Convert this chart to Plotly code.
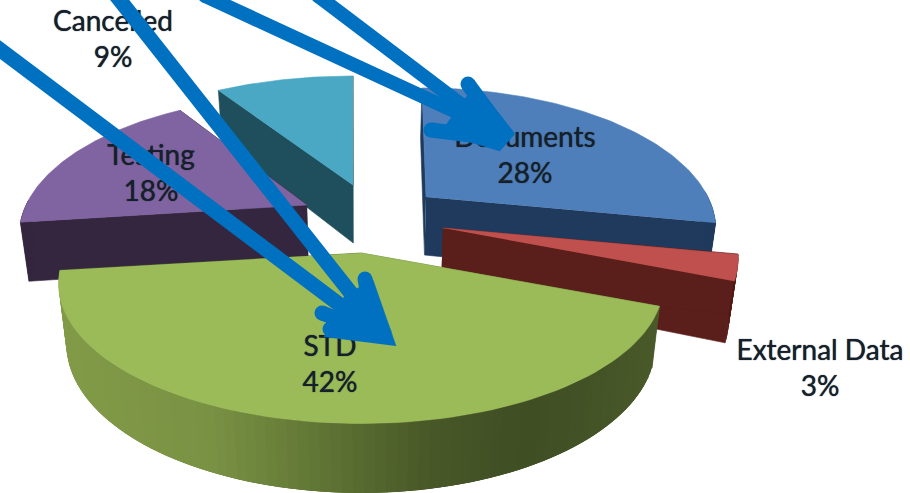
import numpy as np
import plotly.graph_objects as go

# Share of work items per category
categories = ["Documents", "External Data", "STD", "Testing", "Cancelled"]
shares = [28, 3, 42, 18, 9]

# Styling for each slice, in the same order as the categories
top_colors = ["#4f7fba", "#c0504d", "#9bbb59", "#8064a2", "#4aa8c4"]
wall_colors = ["#1f3a5c", "#5a1f1b", "#55682f", "#35263f", "#1f4f5c"]
apex_x = [426, 443, 361, 307, 353]
apex_y = [197, 228, 253, 205, 185]
radius_x = [282, 288, 295, 281, 298]
lean = [-4, 0, 0, 0, 0]
paint_order = [4, 3, 0, 1, 2]

# Label placement: x, y of the centre of the two-line label
label_x = [525, 820, 330, 151, 113]
label_y = [158, 371, 367, 176, 42]

# Projection of the tilted disc
RADIUS_Y = 133
PERSPECTIVE = 0.22
DEPTH = 58
VANISH_X = 365

# Gradient along the rim of the large front slice: screen x, colour
RIM_STOPS_X = [60, 200, 300, 420, 520, 660]
RIM_STOPS_RGB = [(130, 155, 72), (122, 146, 68), (98, 120, 54), (72, 88, 40), (64, 78, 36), (74, 90, 42)]


def project(i, theta, r=1.0, lower=False):
    """Project a point of slice i (clockwise angle from 12 o'clock) to page pixels."""
    ex, ey = r * np.sin(theta), r * np.cos(theta)
    s = 1 / (1 + PERSPECTIVE * ey)
    x = apex_x[i] + radius_x[i] * ex * s + lean[i] * ey
    y = apex_y[i] - RADIUS_Y * ey * s
    if lower:
        x = x + (VANISH_X - x) * 0.025
        y = y + DEPTH * (1 + (s - 1) * 0.7)
    return x, y


def polygon(xs, ys, color, edge=0.6):
    return go.Scatter(x=list(xs), y=list(ys), mode="lines", fill="toself", fillcolor=color,
                      line=dict(color=color, width=edge), hoverinfo="skip", showlegend=False)


def rim_color(x):
    rgb = [np.interp(x, RIM_STOPS_X, [c[k] for c in RIM_STOPS_RGB]) for k in range(3)]
    return "rgb(%d,%d,%d)" % tuple(rgb)


fig = go.Figure()

total = sum(shares)
edges = np.cumsum([0] + shares) / total * 2 * np.pi

for i in paint_order:
    start, stop = edges[i], edges[i + 1]
    arc = np.linspace(start, stop, 90)

    # Two radial walls
    for a in (stop, start):
        tx, ty = project(i, a)
        bx, by = project(i, a, lower=True)
        cx, cy = project(i, a, r=0)
        dx, dy = project(i, a, r=0, lower=True)
        fig.add_trace(polygon([cx, tx, bx, dx], [cy, ty, by, dy], wall_colors[i]))

    # Outer rim on the side facing the viewer; each segment overlaps the next to hide seams
    front = arc[np.cos(arc) < 0.05]
    for k in range(len(front) - 1):
        a0, a1 = front[k], front[min(k + 3, len(front) - 1)]
        t0, t1 = project(i, a0), project(i, a1)
        b0, b1 = project(i, a0, lower=True), project(i, a1, lower=True)
        color = rim_color((t0[0] + t1[0]) / 2) if categories[i] == "STD" else wall_colors[i]
        fig.add_trace(polygon([t0[0], t1[0], b1[0], b0[0]], [t0[1], t1[1], b1[1], b0[1]], color, edge=0))

    # Top face
    px, py = project(i, arc)
    ax, ay = project(i, start, r=0)
    fig.add_trace(polygon([ax, *px], [ay, *py], top_colors[i]))

# Category names and percentages
fig.add_trace(go.Scatter(
    x=label_x, y=label_y, mode="text",
    text=[f"{c}<br>{round(v / total * 100)}%" for c, v in zip(categories, shares)],
    textposition="middle center",
    textfont=dict(family="Lato", size=28, color="#16202a", shadow="0 0 1px #16202a"),
    hoverinfo="skip", showlegend=False))

# Hand-drawn blue arrows on top of the chart
BLUE = "#0070c0"
strokes = [
    ([-10, 380], [42, 335], 15),
    ([115, 380], [-6, 330], 15),
    ([205, 495], [-4, 130], 14),
    ([318, 495], [-4, 130], 14),
    ([365, 370, 385], [279, 305, 335], 15),
    ([322, 380], [313, 335], 15),
    ([330, 380], [329, 335], 15),
    ([468, 503], [84, 132], 15),
    ([431, 495], [130, 138], 15),
]
for xs, ys, w in strokes:
    fig.add_trace(go.Scatter(x=xs, y=ys, mode="lines", line=dict(color=BLUE, width=w),
                             hoverinfo="skip", showlegend=False))
    fig.add_trace(go.Scatter(x=[xs[0]], y=[ys[0]], mode="markers",
                             marker=dict(color=BLUE, size=w, line=dict(width=0)),
                             hoverinfo="skip", showlegend=False))
fig.add_trace(polygon([396, 373, 345, 324], [346, 280, 295, 337], BLUE))
fig.add_trace(polygon([515, 476, 440, 500], [134, 84, 133, 151], BLUE))

fig.update_layout(
    width=910, height=493,
    margin=dict(l=0, r=0, t=0, b=0),
    paper_bgcolor="white", plot_bgcolor="white",
    showlegend=False,
    xaxis=dict(range=[0, 910], visible=False, fixedrange=True),
    yaxis=dict(range=[493, 0], visible=False, fixedrange=True),
)

fig.write_html("out.html", config=dict(displayModeBar=False))
